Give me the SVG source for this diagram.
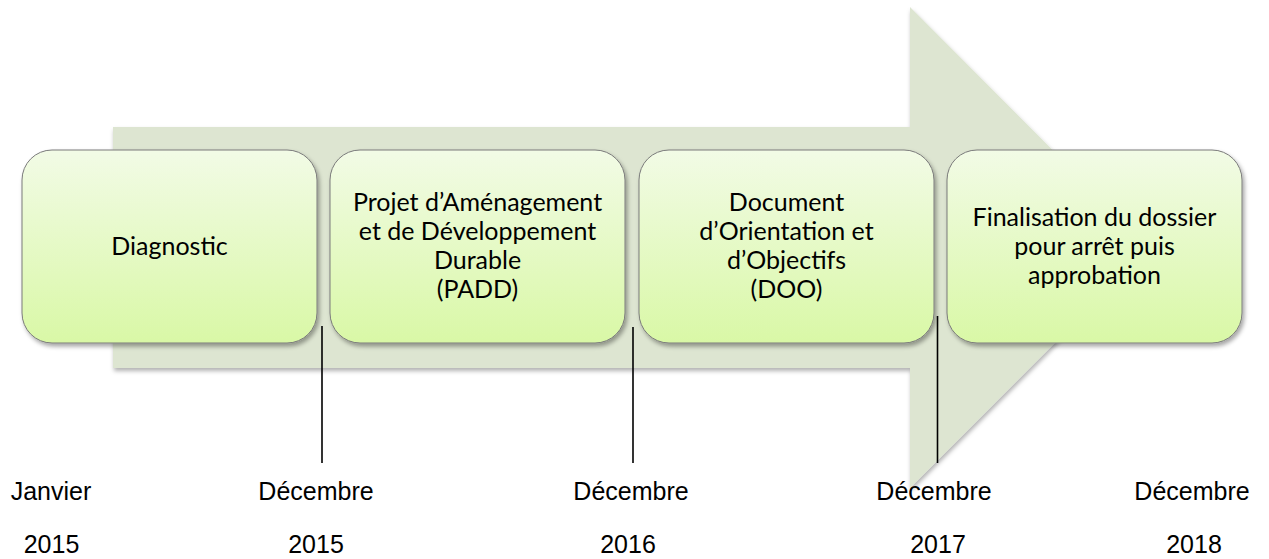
<svg xmlns="http://www.w3.org/2000/svg" width="1269" height="559" viewBox="0 0 1269 559">
  <style>
    .box { fill: url(#boxGrad); stroke: #7a7a7a; stroke-width: 1; filter: url(#shadow); }
    .bt { font-family: Lato, "Open Sans", "Liberation Sans", sans-serif; font-size: 25px; fill: #000; text-anchor: middle; }
    .lbl { font-family: "Liberation Sans", Arial, sans-serif; font-size: 25px; fill: #000; text-anchor: middle; }
    .tick { stroke: #000; stroke-width: 1.6; fill: none; }
  </style>
  <defs>
    <linearGradient id="boxGrad" x1="0" y1="0" x2="0" y2="1">
      <stop offset="0" stop-color="#f2fbe6"/>
      <stop offset="1" stop-color="#d9f8a6"/>
    </linearGradient>
    <filter id="shadow" x="-10%" y="-10%" width="125%" height="130%">
      <feDropShadow dx="2" dy="3" stdDeviation="2.2" flood-color="#000" flood-opacity="0.35"/>
    </filter>
    <filter id="ashadow" x="-5%" y="-5%" width="115%" height="115%">
      <feDropShadow dx="1" dy="3" stdDeviation="2" flood-color="#000" flood-opacity="0.3"/>
    </filter>
  </defs>

  <g id="arrow">
    <path d="M113,127 H910 V7 L1150,247.5 L910,488 V368 H113 Z" fill="#dde5d1" filter="url(#ashadow)"/>
  </g>

  <g id="connectors">
    <line class="tick" x1="322" y1="326" x2="322" y2="463"/>
    <line class="tick" x1="633" y1="327" x2="633" y2="463"/>
    <line class="tick" x1="937.5" y1="316" x2="937.5" y2="463"/>
  </g>

  <g id="node-diagnostic">
    <rect class="box" x="22" y="150" width="295" height="193" rx="30" ry="30"/>
    <text class="bt" x="169.5" y="255">Diagnostic</text>
  </g>

  <g id="node-padd">
    <rect class="box" x="330" y="150" width="295" height="193" rx="30" ry="30"/>
    <text class="bt" x="477.5" y="211">Projet d’Aménagement</text>
    <text class="bt" x="477.5" y="240">et de Développement</text>
    <text class="bt" x="477.5" y="269">Durable</text>
    <text class="bt" x="477.5" y="298">(PADD)</text>
  </g>

  <g id="node-doo">
    <rect class="box" x="639" y="150" width="295" height="193" rx="30" ry="30"/>
    <text class="bt" x="786.5" y="211">Document</text>
    <text class="bt" x="786.5" y="240">d’Orientation et</text>
    <text class="bt" x="786.5" y="269">d’Objectifs</text>
    <text class="bt" x="786.5" y="298">(DOO)</text>
  </g>

  <g id="node-final">
    <rect class="box" x="947" y="150" width="295" height="193" rx="30" ry="30"/>
    <text class="bt" x="1094.5" y="226">Finalisation du dossier</text>
    <text class="bt" x="1094.5" y="255">pour arrêt puis</text>
    <text class="bt" x="1094.5" y="284">approbation</text>
  </g>

  <g id="labels">
    <text class="lbl" x="51" y="500">Janvier</text>
    <text class="lbl" x="51.5" y="553">2015</text>
    <text class="lbl" x="316" y="500">Décembre</text>
    <text class="lbl" x="316" y="553">2015</text>
    <text class="lbl" x="631" y="500">Décembre</text>
    <text class="lbl" x="628" y="553">2016</text>
    <text class="lbl" x="934" y="500">Décembre</text>
    <text class="lbl" x="938" y="553">2017</text>
    <text class="lbl" x="1192" y="500">Décembre</text>
    <text class="lbl" x="1194" y="553">2018</text>
  </g>
</svg>
